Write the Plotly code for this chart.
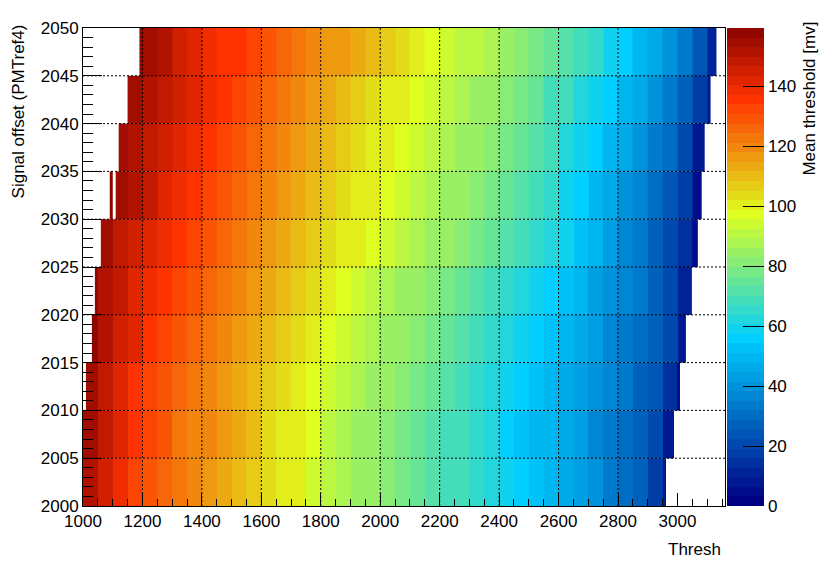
import math
import plotly.graph_objects as go

# ---------------- data ----------------
signal_offset = [2000, 2005, 2010, 2015, 2020, 2025, 2030, 2035, 2040, 2045]
offset_step = 5
row_start = [1000, 1000, 1010, 1030, 1040, 1060, 1110, 1120, 1150, 1190]
row_end = [2960, 2990, 3010, 3030, 3050, 3070, 3080, 3090, 3110, 3130]

mean_thr_2000 = [152, 145, 138, 133, 129, 126, 122, 119, 116, 113, 110, 108, 105, 102, 99, 95, 91, 88, 85, 83,
                 81, 78, 75, 72, 70, 67, 64, 61, 58, 55, 52, 49, 46, 42, 39, 35, 31, 26, 18, 7]
mean_thr_2005 = [154, 148, 141, 134, 131, 128, 124, 121, 118, 115, 112, 109, 105, 102, 99, 96, 92, 89, 86, 84,
                 81, 78, 76, 73, 70, 67, 64, 61, 57, 54, 51, 48, 45, 42, 38, 35, 31, 26, 20, 9]
mean_thr_2010 = [155, 149, 143, 137, 133, 130, 127, 123, 120, 117, 114, 111, 108, 105, 101, 98, 95, 92, 89, 86,
                 83, 80, 78, 75, 72, 69, 66, 63, 59, 56, 52, 49, 46, 43, 40, 36, 32, 28, 23, 15, 5]
mean_thr_2015 = [157, 152, 146, 141, 136, 133, 130, 126, 123, 120, 117, 114, 111, 108, 104, 101, 98, 95, 92, 89,
                 86, 83, 80, 77, 74, 71, 68, 65, 62, 58, 55, 52, 48, 45, 42, 38, 35, 31, 26, 20, 8]
mean_thr_2020 = [157, 153, 148, 143, 139, 136, 132, 129, 126, 123, 120, 117, 113, 110, 107, 104, 101, 98, 95, 92,
                 89, 86, 83, 80, 77, 74, 71, 68, 65, 62, 59, 55, 52, 48, 44, 41, 37, 33, 28, 22, 10]
mean_thr_2025 = [154, 149, 145, 141, 138, 135, 132, 129, 126, 123, 120, 117, 114, 111, 108, 105, 102, 99, 96, 93,
                 91, 88, 86, 84, 81, 78, 75, 72, 69, 66, 62, 58, 53, 48, 42, 36, 32, 27, 22, 15, 6]
mean_thr_2030 = [155, 151, 147, 143, 139, 136, 132, 129, 126, 123, 120, 117, 114, 111, 108, 105, 102, 99, 96, 93,
                 91, 88, 85, 83, 80, 77, 74, 71, 68, 64, 60, 56, 51, 46, 41, 36, 31, 25, 17, 6]
mean_thr_2035 = [156, 152, 148, 145, 141, 138, 135, 132, 129, 126, 123, 120, 117, 114, 111, 108, 105, 102, 99, 97,
                 94, 91, 88, 86, 83, 80, 77, 74, 71, 67, 63, 59, 55, 50, 45, 40, 35, 29, 21, 9]
mean_thr_2040 = [156, 152, 148, 145, 141, 138, 135, 132, 129, 126, 123, 120, 117, 114, 111, 108, 105, 102, 99, 96,
                 93, 91, 88, 85, 83, 80, 77, 74, 70, 67, 63, 59, 55, 50, 45, 40, 35, 28, 19, 8]
mean_thr_2045 = [158, 154, 150, 146, 142, 139, 136, 134, 131, 128, 125, 122, 120, 117, 115, 112, 109, 106, 103, 100,
                 97, 94, 92, 90, 87, 85, 82, 78, 75, 71, 67, 64, 60, 55, 50, 45, 40, 34, 25, 12]
mean_thr_rows = [mean_thr_2000, mean_thr_2005, mean_thr_2010, mean_thr_2015, mean_thr_2020,
                 mean_thr_2025, mean_thr_2030, mean_thr_2035, mean_thr_2040, mean_thr_2045]

# isolated filled bin in the 2030 row
stray_thresh = [1090, 1100]
stray_offset = 2030
stray_value = 157

z_max = 159.4
x_range = [1000, 3160]
y_range = [2000, 2050]
x_major = [1000, 1200, 1400, 1600, 1800, 2000, 2200, 2400, 2600, 2800, 3000]
y_major = [2000, 2005, 2010, 2015, 2020, 2025, 2030, 2035, 2040, 2045, 2050]
cbar_ticks = [0, 20, 40, 60, 80, 100, 120, 140]
column_width = 50

# ---------------- ROOT-like 50-level gradient palette ----------------
stops = [0.00, 0.34, 0.61, 0.84, 1.00]
red = [0.00, 0.00, 0.87, 1.00, 0.51]
green = [0.00, 0.81, 1.00, 0.20, 0.00]
blue = [0.51, 1.00, 0.12, 0.00, 0.00]
ncol = 50
palette = []
for g in range(1, len(stops)):
    n = int(math.floor(ncol * stops[g]) - math.floor(ncol * stops[g - 1]))
    for c in range(n):
        r = red[g - 1] + c * (red[g] - red[g - 1]) / n
        gg = green[g - 1] + c * (green[g] - green[g - 1]) / n
        b = blue[g - 1] + c * (blue[g] - blue[g - 1]) / n
        palette.append("rgb(%d,%d,%d)" % (round(r * 255), round(gg * 255), round(b * 255)))
colorscale = []
for k, col in enumerate(palette):
    colorscale.append([k / ncol, col])
    colorscale.append([(k + 1) / ncol, col])

fig = go.Figure()
for y0, x0, x1, vals in zip(signal_offset, row_start, row_end, mean_thr_rows):
    edges = [x0] + [m for m in range(x_range[0], x1, column_width) if m > x0] + [x1]
    assert len(edges) - 1 == len(vals), (y0, len(edges) - 1, len(vals))
    fig.add_trace(go.Heatmap(x=edges, y=[y0, y0 + offset_step], z=[vals],
                             coloraxis="coloraxis", hoverinfo="skip"))
fig.add_trace(go.Heatmap(x=stray_thresh, y=[stray_offset, stray_offset + offset_step], z=[[stray_value]],
                         coloraxis="coloraxis", hoverinfo="skip"))

FONT = "Liberation Sans, Arial, Helvetica, sans-serif"
fs = 17

# dotted grid drawn above the map, like ROOT
shapes = []
for xv in x_major[1:-1]:
    shapes.append(dict(type="line", xref="x", yref="paper", x0=xv, x1=xv, y0=0, y1=1,
                       line=dict(color="black", width=1, dash="2px,2px"), layer="above"))
for yv in y_major[1:-1]:
    shapes.append(dict(type="line", xref="paper", yref="y", x0=0, x1=1, y0=yv, y1=yv,
                       line=dict(color="black", width=1, dash="2px,2px"), layer="above"))

# the page has an 8px body margin, so the figure is sized to fit the 830x563 window
fig.update_layout(
    width=822, height=555,
    margin=dict(l=75, r=105, t=20, b=57),
    paper_bgcolor="white", plot_bgcolor="white",
    font=dict(family=FONT, size=fs, color="black"),
    showlegend=False,
    shapes=shapes,
    coloraxis=dict(
        colorscale=colorscale, cmin=0, cmax=z_max,
        colorbar=dict(
            x=1.003, xanchor="left", xref="paper",
            y=0, yanchor="bottom", len=1, lenmode="fraction",
            thickness=37, thicknessmode="pixels",
            outlinewidth=0,
            tickmode="array", tickvals=cbar_ticks,
            ticks="inside", ticklen=21, tickcolor="black", tickwidth=1,
            tickfont=dict(family=FONT, size=fs, color="black"),
            ypad=0, xpad=0,
        ),
    ),
    xaxis=dict(
        range=x_range, tickmode="array", tickvals=x_major,
        ticks="inside", ticklen=13, tickcolor="black", tickwidth=1,
        minor=dict(dtick=column_width, ticks="inside", ticklen=7, tickcolor="black", tickwidth=1),
        showgrid=False, zeroline=False,
        showline=True, linecolor="black", linewidth=1, mirror=True,
        tickfont=dict(family=FONT, size=fs, color="black"),
        layer="above traces",
    ),
    yaxis=dict(
        range=y_range, tickmode="array", tickvals=y_major,
        ticks="inside", ticklen=19, tickcolor="black", tickwidth=1,
        minor=dict(dtick=1, ticks="inside", ticklen=10, tickcolor="black", tickwidth=1),
        showgrid=False, zeroline=False,
        showline=True, linecolor="black", linewidth=1, mirror=True,
        tickfont=dict(family=FONT, size=fs, color="black"),
        layer="above traces",
    ),
    annotations=[
        dict(text="Thresh", xref="paper", yref="paper", x=0.997, y=-0.092,
             xanchor="right", yanchor="middle", showarrow=False,
             font=dict(family=FONT, size=fs, color="black")),
        dict(text="Signal offset (PMTref4)", xref="paper", yref="paper", x=-0.101, y=1.012,
             xanchor="center", yanchor="top", textangle=-90, showarrow=False,
             font=dict(family=FONT, size=fs, color="black")),
        dict(text="Mean threshold [mv]", xref="paper", yref="paper", x=1.132, y=1.017,
             xanchor="center", yanchor="top", textangle=-90, showarrow=False,
             font=dict(family=FONT, size=fs, color="black")),
    ],
)

fig.write_html("out.html")
